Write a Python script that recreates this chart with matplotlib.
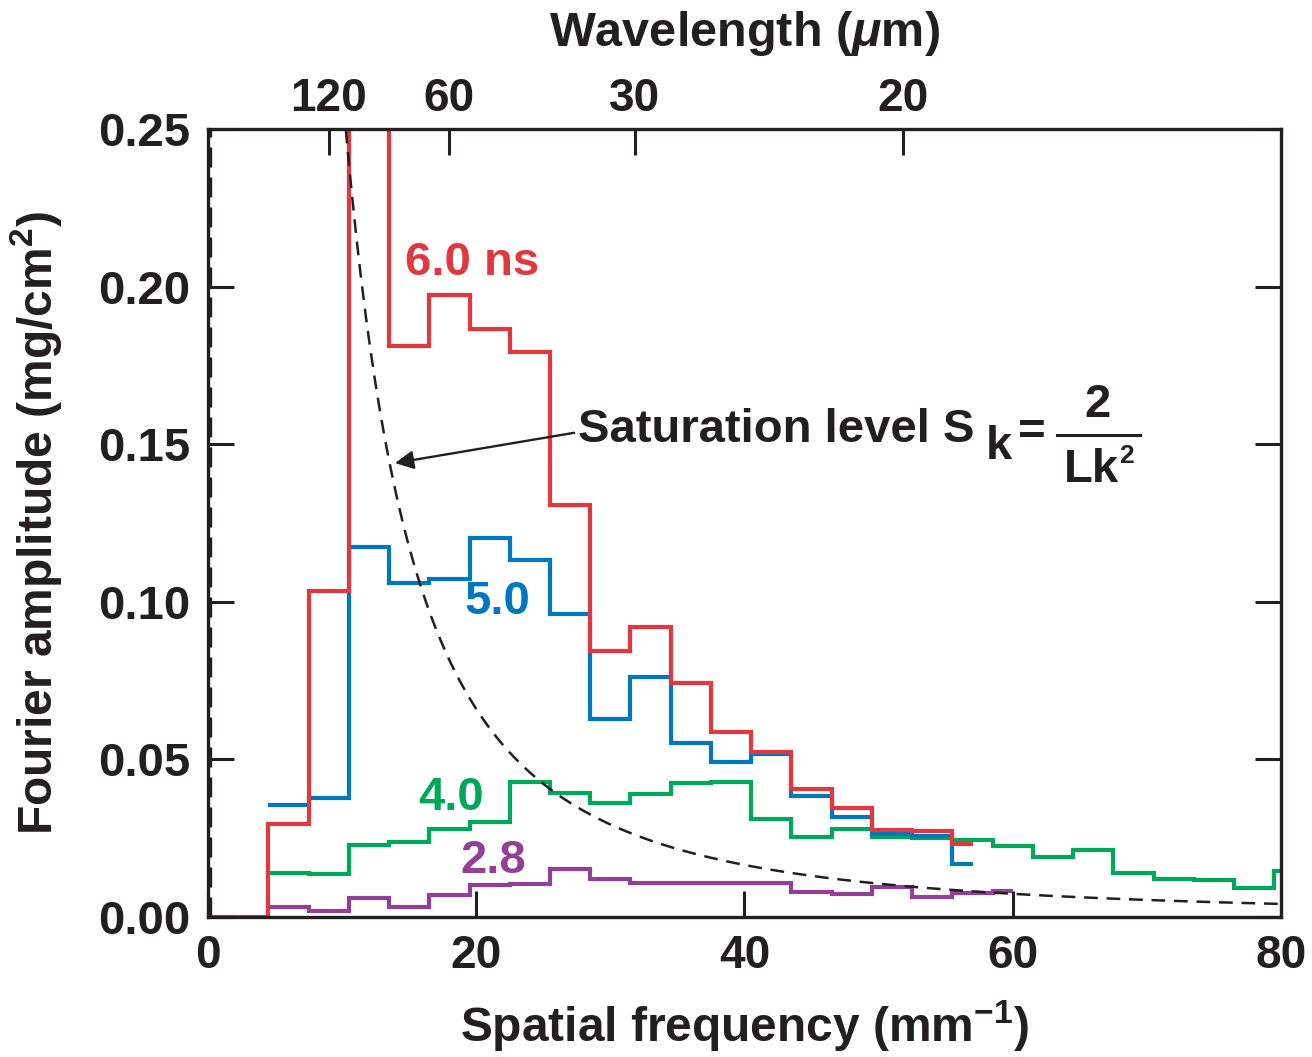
import matplotlib
matplotlib.use("Agg")
import numpy as np
import matplotlib.pyplot as plt

plt.rcParams['font.family'] = ['Liberation Sans', 'DejaVu Sans']
plt.rcParams['font.weight'] = 'bold'
plt.rcParams['axes.labelweight'] = 'bold'
plt.rcParams['mathtext.fontset'] = 'custom'
plt.rcParams['mathtext.rm'] = 'Liberation Sans:bold'
plt.rcParams['mathtext.bf'] = 'Liberation Sans:bold'
plt.rcParams['mathtext.it'] = 'Liberation Sans:italic:bold'
plt.rcParams['mathtext.default'] = 'bf'

# bin edges (spatial frequency, 1/mm)
edges_red = [0, 4.5, 7.5, 10.5, 13.5, 16.5, 19.5, 22.5, 25.5, 28.5, 31.5, 34.5,
             37.5, 40.5, 43.5, 46.5, 49.5, 52.5, 55.5, 57.0]
edges_blue = edges_red[1:]
edges_green = [4.5, 7.5, 10.5, 13.5, 16.5, 19.5, 22.5, 25.5, 28.5, 31.5, 34.5,
               37.5, 40.5, 43.5, 46.5, 49.5, 52.5, 55.5, 58.5, 61.5, 64.5,
               67.5, 70.5, 73.5, 76.5, 79.5, 80.0]
edges_purple = [4.5, 7.5, 10.5, 13.5, 16.5, 19.5, 22.5, 25.5, 28.5, 31.5, 34.5,
                37.5, 40.5, 43.5, 46.5, 49.5, 52.5, 55.5, 58.5, 60.0]

# Fourier amplitude (mg/cm^2)
amp_6ns = [0.0, 0.0295, 0.1034, 0.30, 0.1812, 0.1973, 0.1864, 0.1791, 0.1307,
           0.0845, 0.0921, 0.0743, 0.0588, 0.0524, 0.0405, 0.0347, 0.0276,
           0.0273, 0.0231]
amp_5ns = [0.0355, 0.0378, 0.1175, 0.1058, 0.1072, 0.1201, 0.1133, 0.0960,
           0.0627, 0.0762, 0.0553, 0.0493, 0.0517, 0.0385, 0.0316, 0.0262,
           0.0257, 0.0167]
amp_4ns = [0.0141, 0.0135, 0.0228, 0.0239, 0.0278, 0.0300, 0.0429, 0.0394,
           0.0361, 0.0389, 0.0424, 0.0427, 0.0311, 0.0253, 0.0279, 0.0253,
           0.0249, 0.0244, 0.0225, 0.0191, 0.0213, 0.0139, 0.0120, 0.0117,
           0.0093, 0.0146]
amp_28ns = [0.0033, 0.0019, 0.0059, 0.0033, 0.0070, 0.0102, 0.0105, 0.0151,
            0.0121, 0.0109, 0.0109, 0.0107, 0.0109, 0.0080, 0.0073, 0.0094,
            0.0064, 0.0075, 0.0083]

# saturation level S_k = 2/(L k^2), coefficient
sat_coef = 26.4

# top axis: wavelength ticks (um) at their spatial frequency positions
wl_pos = [9.02, 17.97, 31.84, 51.8]
wl_labels = ['120', '60', '30', '20']

red = '#E3373F'
blue = '#0077C1'
green = '#00A85C'
purple = '#923F98'
ink = '#231F20'

fig = plt.figure(figsize=(13.12, 10.57), dpi=100)
ax = fig.add_axes([0.1585, 0.1325, 0.8179, 0.7455])

lw = 3.0
ax.stairs(amp_28ns, edges_purple, color=purple, lw=lw, baseline=None)
ax.stairs(amp_4ns, edges_green, color=green, lw=lw, baseline=None)
ax.stairs(amp_5ns, edges_blue, color=blue, lw=lw, baseline=None)
ax.stairs(amp_6ns, edges_red, color=red, lw=lw, baseline=None)

k = np.linspace(10, 80, 400)
ax.plot(k, sat_coef / k**2, color=ink, lw=1.8, dashes=(5.5, 3.5))
ax.plot([0.15, 0.15], [0, 0.25], color=ink, lw=2.4, dashes=(6, 3))

ax.set_xlim(0, 80)
ax.set_ylim(0, 0.25)
ax.set_xticks([0, 20, 40, 60, 80])
ax.set_yticks([0, 0.05, 0.10, 0.15, 0.20, 0.25])
ax.set_yticklabels(['0.00', '0.05', '0.10', '0.15', '0.20', '0.25'])
ax.tick_params(axis='both', direction='in', length=19, width=2.2,
               labelsize=33, color=ink, labelcolor=ink)
ax.tick_params(axis='x', pad=12, top=False)
ax.tick_params(axis='y', pad=13, labelsize=34, right=True)
for s in ax.spines.values():
    s.set_linewidth(2.4)
    s.set_color(ink)

top = ax.secondary_xaxis('top')
top.set_xticks(wl_pos)
top.set_xticklabels(wl_labels)
top.tick_params(direction='in', length=19, width=2.2, labelsize=33,
                pad=6, color=ink, labelcolor=ink)
top.set_xlabel(r'Wavelength ($\mathit{\mu}$m)', fontsize=35, labelpad=22,
               color=ink)

ax.set_xlabel(r'Spatial frequency (mm$^{-1}$)', fontsize=34.5, labelpad=15,
              color=ink)
ax.set_ylabel(r'Fourier amplitude (mg/cm$^{2}$)', fontsize=34.5, labelpad=24,
              color=ink)

fs = 34
ax.text(14.69, 0.2075, '6.0 ns', color=red, fontsize=fs, va='center')
ax.text(19.16, 0.0999, '5.0', color=blue, fontsize=fs, va='center')
ax.text(15.66, 0.0378, '4.0', color=green, fontsize=fs, va='center')
ax.text(18.79, 0.0178, '2.8', color=purple, fontsize=fs, va='center')

# saturation annotation
ax.annotate('', xy=(13.94, 0.144), xytext=(27.3, 0.1536),
            arrowprops=dict(arrowstyle='-|>', color=ink, lw=1.7,
                            mutation_scale=28, shrinkA=0, shrinkB=0))
tfs = 34
ax.text(27.6, 0.1545, 'Saturation level S', fontsize=tfs, va='center',
        ha='left', color=ink)
ax.text(58.0, 0.1490, 'k', fontsize=tfs, va='center', ha='left', color=ink)
ax.text(61.45, 0.1536, '=', fontsize=tfs, va='center', ha='center', color=ink)
ax.text(66.3, 0.1624, '2', fontsize=tfs, va='center', ha='center', color=ink)
ax.plot([63.3, 69.5], [0.1529, 0.1529], color=ink, lw=2.2)
ax.text(67.95, 0.1418, 'Lk', fontsize=tfs, va='center', ha='right', color=ink)
ax.text(67.95, 0.1462, '2', fontsize=19, va='center', ha='left', color=ink)

fig.savefig('out.png', dpi=100)
